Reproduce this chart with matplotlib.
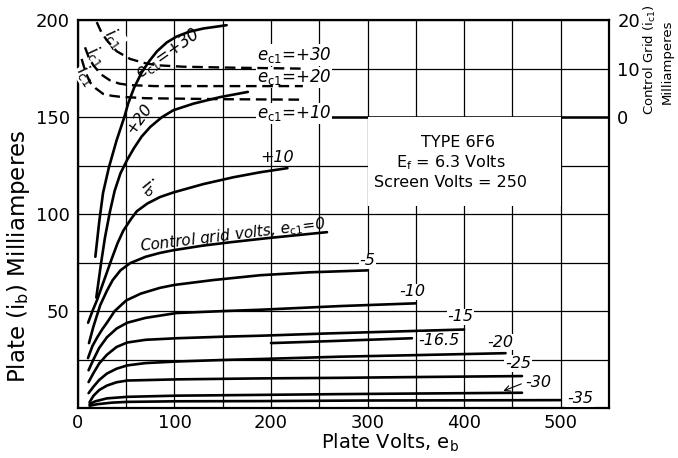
import matplotlib
matplotlib.use('Agg')
import matplotlib.pyplot as plt
from matplotlib.patches import Rectangle
import numpy as np

plt.rcParams['font.family'] = ['DejaVu Sans']
plt.rcParams['mathtext.fontset'] = 'dejavusans'

# plate current curves (plate volts, plate mA), one pair per control grid voltage
p30_v = [18, 22, 26, 32, 40, 48, 52, 58, 66, 74, 82, 92, 102, 115, 130, 154]
p30_ma = [78, 96, 111, 124, 138, 150, 157, 165, 173, 179, 184, 188.5, 191.5, 194, 195.7, 197.4]
p20_v = [19, 24, 28, 33, 38, 44, 51, 58, 66, 75, 87, 99, 120, 147, 176]
p20_ma = [57, 75, 88, 101, 112, 121, 128, 134, 140, 145, 150, 153.6, 157, 160.3, 163]
p10_v = [10.5, 15, 20, 25, 30, 35, 41, 47, 55, 61, 72, 85, 99, 130, 161, 189, 217]
p10_ma = [44, 50, 56, 63, 70, 77, 85, 91.5, 97.5, 101.5, 105.5, 108.8, 111.2, 115.5, 119, 121.6, 123.7]
z0_v = [11.4, 16, 23, 30, 36, 44, 54, 70, 85, 99, 130, 158, 196, 230, 258]
z0_ma = [33.5, 42, 53, 60.5, 66, 71, 74.7, 78, 80, 81.4, 83.8, 85.5, 87.6, 89.3, 90.7]
m5_v = [10.4, 15, 20, 25, 30, 38, 50, 65, 85, 100, 140, 189, 240, 300]
m5_ma = [25.8, 32, 36.5, 40.5, 44, 50, 55.5, 59, 62, 63.5, 66, 68.5, 70, 71]
m10_v = [11, 16, 22, 30, 40, 51, 70, 102, 150, 189, 272, 350]
m10_ma = [19.5, 25, 31, 36.5, 41, 44, 46.5, 49, 50, 50.7, 52.6, 54]
m15_v = [11, 16, 22, 30, 40, 51, 70, 102, 150, 189, 260, 330, 400]
m15_ma = [13.4, 18, 23, 27.5, 31.5, 33.8, 35.2, 36, 36.8, 37.3, 38.5, 39.5, 40.5]
m165_v = [200, 260, 300, 346]
m165_ma = [33.5, 34.5, 35.2, 36]
m20_v = [11, 16, 22, 30, 40, 51, 70, 102, 150, 189, 272, 350, 443]
m20_ma = [7.7, 11, 14.5, 17.8, 20.3, 22, 23.2, 24, 24.8, 25.3, 26.5, 27.3, 28.3]
m25_v = [12, 16, 22, 30, 40, 51, 102, 189, 272, 350, 460]
m25_ma = [3, 6.3, 9.3, 11.6, 13.3, 14.2, 14.8, 15.3, 15.6, 16, 16.5]
m30_v = [12, 18, 30, 51, 102, 189, 272, 350, 460]
m30_ma = [2, 3.5, 5, 5.8, 6.4, 6.8, 7.2, 7.5, 7.9]
m35_v = [12, 20, 35, 51, 102, 189, 300, 400, 500]
m35_ma = [1.2, 2, 2.8, 3.2, 3.5, 3.6, 3.9, 4.0, 4.1]

# control grid current (plate volts, grid mA on the right scale)
ic30_v = [19.4, 24, 29.7, 40, 54, 68, 81.6, 109, 160, 233]
ic30_ma = [19.6, 17.6, 15.9, 13.6, 12, 11.2, 10.7, 10.4, 10.2, 10]
ic20_v = [7.3, 11, 15.9, 24, 33, 43, 54, 80, 150, 233]
ic20_ma = [14.4, 12.4, 10.7, 8.8, 7.6, 6.9, 6.6, 6.4, 6.4, 6.4]
ic10_v = [3.8, 8, 12.4, 18, 26, 35, 43.6, 70, 150, 233]
ic10_ma = [12, 9.2, 7.2, 6, 4.8, 4.4, 4.2, 3.9, 3.7, 3.6]

x_ticks = [0, 100, 200, 300, 400, 500]
y_ticks = [50, 100, 150, 200]
ic_ticks = [0, 10, 20]

plate_curves = [(p30_v, p30_ma), (p20_v, p20_ma), (p10_v, p10_ma), (z0_v, z0_ma),
                (m5_v, m5_ma), (m10_v, m10_ma), (m15_v, m15_ma), (m165_v, m165_ma),
                (m20_v, m20_ma), (m25_v, m25_ma), (m30_v, m30_ma), (m35_v, m35_ma)]
grid_curves = [(ic30_v, ic30_ma), (ic20_v, ic20_ma), (ic10_v, ic10_ma)]

fig = plt.figure(figsize=(6.78, 4.58), dpi=100)
ax = fig.add_axes([0.115, 0.109, 0.783, 0.847])
ax.set_xlim(0, 550)
ax.set_ylim(0, 200)

# grid every 50 V and 25 mA
ax.set_xticks(x_ticks)
ax.set_xticks(np.arange(0, 551, 50), minor=True)
ax.set_yticks(y_ticks)
ax.set_yticks(np.arange(0, 201, 25), minor=True)
ax.grid(True, which='both', color='black', lw=0.9, zorder=0)
ax.set_axisbelow(True)
ax.hlines(150, 262, 550, color='black', lw=1.8, zorder=1)
ax.tick_params(which='both', length=0, labelsize=13)
ax.tick_params(axis='x', pad=4)
ax.tick_params(axis='y', pad=6)
for sp in ax.spines.values():
    sp.set_linewidth(1.6)

# white panel behind the tube data
ax.add_patch(Rectangle((300, 104), 200, 46, facecolor='white', edgecolor='none', zorder=1))

for v, ma in plate_curves:
    ax.plot(v, ma, color='black', lw=1.9, solid_capstyle='round', zorder=3)

ax2 = ax.twinx()
ax2.set_ylim(-60, 20)
ax2.set_yticks(ic_ticks)
ax2.tick_params(length=0, labelsize=13, pad=6)
for sp in ax2.spines.values():
    sp.set_visible(False)
for v, ic in grid_curves:
    ax2.plot(v, ic, color='black', lw=1.7, linestyle=(0, (4.5, 2.4)), zorder=3)

white = dict(facecolor='white', edgecolor='none', pad=0.5)
lab = dict(fontsize=11.5, style='italic', ha='center', va='center', zorder=4)

ax.text(300, 76, '-5', bbox=white, **lab)
ax.text(346, 60, '-10', bbox=white, **lab)
ax.text(396, 47, '-15', bbox=white, **lab)
ax.text(374, 35, '-16.5', bbox=white, **lab)
ax.text(438, 34, '-20', bbox=white, **lab)
ax.text(456, 23, '-25', bbox=white, **lab)
ax.text(477, 13.4, '-30', bbox=white, **lab)
ax.text(520, 5, '-35', bbox=white, **lab)
ax.annotate('', xy=(438, 8.3), xytext=(462, 13),
            arrowprops=dict(arrowstyle='->', color='black', lw=0.8), zorder=4)
ax.text(206, 129, '+10', **lab)
ax.text(64, 149, '+20', rotation=55, **lab)
ax.text(74, 114, r'$i_\mathrm{b}$', rotation=-40, fontsize=13, ha='center', va='center', zorder=4)
ax.text(160, 89, r'Control grid volts, $e_\mathrm{c1}$=0', rotation=7, fontsize=11,
        style='italic', ha='center', va='center', zorder=4)
ax.text(93, 183, r'$e_\mathrm{c1}$=+30', rotation=35, fontsize=12, style='italic',
        ha='center', va='center', zorder=4)

ax.text(224, 182, r'$e_\mathrm{c1}$=+30', bbox=white, fontsize=12, style='italic',
        ha='center', va='center', zorder=4)
ax.text(224, 170.6, r'$e_\mathrm{c1}$=+20', bbox=white, fontsize=12, style='italic',
        ha='center', va='center', zorder=4)
ax.text(224, 152, r'$e_\mathrm{c1}$=+10', bbox=white, fontsize=12, style='italic',
        ha='center', va='center', zorder=4)

for x, y in [(37, 191), (18.5, 181.5), (9, 172)]:
    ax.text(x, y, r'$i_\mathrm{c1}$', rotation=-55, fontsize=12, ha='center', va='center',
            bbox=white, zorder=4)

ax.text(394, 137, 'TYPE 6F6', fontsize=11.5, ha='center', va='center', zorder=4)
ax.text(386, 126.5, r'E$_\mathrm{f}$ = 6.3 Volts', fontsize=11.5, ha='center', va='center', zorder=4)
ax.text(386, 116.5, 'Screen Volts = 250', fontsize=11.5, ha='center', va='center', zorder=4)

ax.set_xlabel(r'Plate Volts, e$_\mathrm{b}$', fontsize=14)
ax.xaxis.set_label_coords(0.588, -0.062)
fig.text(0.028, 1 - 256 / 458, r'Plate (i$_\mathrm{b}$) Milliamperes', rotation=90,
         fontsize=16.5, ha='center', va='center')
fig.text(650 / 678, 1 - 60 / 458, r'Control Grid (i$_\mathrm{c1}$)', rotation=90,
         fontsize=9.5, family=['Liberation Sans Narrow', 'DejaVu Sans'], ha='center', va='center')
fig.text(667 / 678, 1 - 62 / 458, 'Milliamperes', rotation=90,
         fontsize=9.5, family=['Liberation Sans Narrow', 'DejaVu Sans'], ha='center', va='center')

fig.savefig('out.png', dpi=100)
